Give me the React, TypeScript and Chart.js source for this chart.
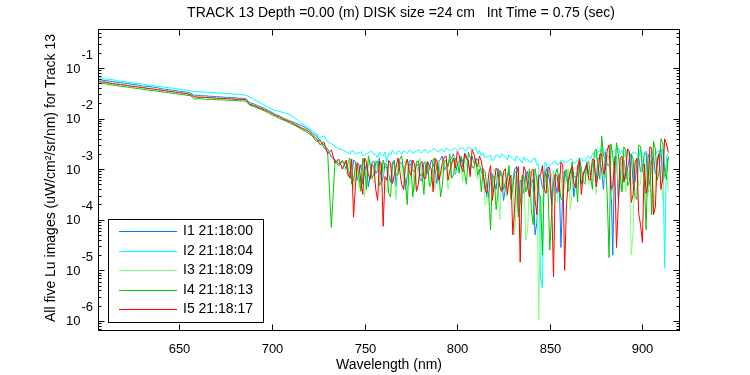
import React, { useEffect, useRef } from "react";
import { Chart, registerables } from "chart.js";

Chart.register(...registerables);

const TITLE = "TRACK 13 Depth =0.00 (m) DISK size =24 cm   Int Time = 0.75 (sec)";
const X_TITLE = "Wavelength (nm)";
const Y_TITLE = "All five Lu images (uW/cm\u00B2/sr/nm) for Track 13";

const xTicks = [650, 700, 750, 800, 850, 900];
const yDecades = [-6, -5, -4, -3, -2, -1];
const X_MIN = 606;
const X_MAX = 920.3;
const Y_MIN_EXP = -6.2;
const Y_MAX_EXP = -0.23;

const labels = ["I1 21:18:00", "I2 21:18:04", "I3 21:18:09", "I4 21:18:13", "I5 21:18:17"];
const colors = ["rgb(0,127,255)", "rgb(0,255,255)", "rgb(128,255,128)", "rgb(0,200,0)", "rgb(255,0,0)"];

// even-nm samples, 606..914
const wavelengths = [
  606,608,610,612,614,616,618,620,622,624,
  626,628,630,632,634,636,638,640,642,644,
  646,648,650,652,654,656,658,660,662,664,
  666,668,670,672,674,676,678,680,682,684,
  686,688,690,692,694,696,698,700,702,704,
  706,708,710,712,714,716,718,720,722,724,
  726,728,730,732,734,736,738,740,742,744,
  746,748,750,752,754,756,758,760,762,764,
  766,768,770,772,774,776,778,780,782,784,
  786,788,790,792,794,796,798,800,802,804,
  806,808,810,812,814,816,818,820,822,824,
  826,828,830,832,834,836,838,840,842,844,
  846,848,850,852,854,856,858,860,862,864,
  866,868,870,872,874,876,878,880,882,884,
  886,888,890,892,894,896,898,900,902,904,
  906,908,910,912,914,
];

// odd-nm samples in the noisy part, 741..913
const oddWavelengths = [
  741,743,745,747,749,751,753,755,757,759,
  761,763,765,767,769,771,773,775,777,779,
  781,783,785,787,789,791,793,795,797,799,
  801,803,805,807,809,811,813,
  815,817,819,821,823,825,827,829,831,833,
  835,837,839,841,843,845,847,849,851,853,
  855,857,859,861,863,865,867,869,
  871,873,875,877,879,881,883,885,887,889,
  891,893,895,897,899,901,903,905,907,909,911,913,
];

// log10 of radiance for each image (even-nm samples)
const i1Log = [
  -1.23,-1.24,-1.25,-1.26,-1.27,-1.28,-1.29,-1.30,-1.31,-1.32,
  -1.33,-1.34,-1.36,-1.36,-1.37,-1.38,-1.39,-1.41,-1.42,-1.43,
  -1.44,-1.45,-1.46,-1.47,-1.48,-1.50,-1.54,-1.54,-1.55,-1.55,
  -1.56,-1.56,-1.57,-1.57,-1.58,-1.58,-1.59,-1.59,-1.60,-1.60,
  -1.61,-1.69,-1.71,-1.74,-1.77,-1.80,-1.84,-1.88,-1.92,-1.95,
  -1.99,-2.02,-2.05,-2.08,-2.11,-2.14,-2.18,-2.22,-2.30,-2.34,
  -2.45,-2.52,-2.60,-2.76,-2.82,-2.90,-2.86,-2.89,-3.11,-2.82,
  -3.22,-2.91,-3.04,-3.35,-2.87,-3.09,-2.78,-3.18,-2.91,-3.26,
  -2.82,-3.00,-2.89,-3.40,-2.85,-3.04,-2.91,-3.22,-2.87,-3.09,
  -2.82,-3.00,-2.87,-2.74,-2.96,-2.82,-2.70,-2.91,-2.78,-2.68,
  -2.89,-2.74,-2.82,-2.91,-3.13,-3.55,-3.08,-3.26,-2.99,-3.17,
  -3.39,-3.04,-3.26,-2.95,-3.22,-3.48,-3.04,-3.30,-4.30,-3.13,
  -3.37,-2.99,-3.26,-3.08,-3.48,-4.55,-3.04,-3.30,-2.95,-3.22,
  -2.82,-3.08,-2.87,-3.11,-2.91,-2.78,-3.04,-2.67,-2.91,-4.70,
  -2.74,-3.18,-2.82,-3.00,-2.70,-3.26,-2.78,-3.04,-2.65,-3.22,
  -2.74,-2.91,-2.60,-3.11,-2.78,
];
const i1LogOdd = [
  -2.98,-3.20,-2.86,-3.05,-3.30,-2.90,-3.12,-2.84,-3.02,-3.25,
  -2.88,-3.10,-2.94,-3.35,-2.86,-2.98,-3.15,-2.82,-3.05,-2.92,
  -3.22,-2.86,-3.00,-2.90,-3.28,-2.80,-3.02,-2.92,-2.78,-3.10,
  -2.84,-2.96,-2.74,-3.08,-2.88,-2.80,-3.05,
  -3.30,-3.55,-3.10,-3.40,-3.05,-3.62,-3.20,-3.45,-3.00,-3.85,
  -3.25,-3.10,-3.50,-3.20,-4.05,-3.15,-3.40,-3.08,-3.70,-3.30,
  -3.10,-3.45,-3.20,-3.05,-3.55,-3.10,-3.30,-3.00,
  -3.10,-2.88,-3.25,-2.80,-3.40,-2.92,-3.15,-2.75,-3.60,-2.86,
  -3.20,-2.78,-3.30,-2.90,-3.05,-2.70,-3.45,-2.85,-3.10,-2.68,-3.25,-2.90,
];

const i2Log = [
  -1.20,-1.20,-1.22,-1.23,-1.23,-1.25,-1.26,-1.27,-1.28,-1.29,
  -1.30,-1.31,-1.32,-1.33,-1.34,-1.35,-1.36,-1.37,-1.38,-1.39,
  -1.40,-1.41,-1.42,-1.43,-1.44,-1.45,-1.47,-1.47,-1.47,-1.48,
  -1.48,-1.49,-1.49,-1.50,-1.50,-1.51,-1.51,-1.52,-1.52,-1.53,
  -1.54,-1.58,-1.62,-1.66,-1.70,-1.74,-1.78,-1.82,-1.84,-1.86,
  -1.88,-1.90,-1.93,-1.98,-2.04,-2.10,-2.14,-2.18,-2.26,-2.30,
  -2.38,-2.34,-2.46,-2.50,-2.55,-2.60,-2.62,-2.66,-2.70,-2.64,
  -2.69,-2.66,-2.72,-2.68,-2.65,-2.71,-2.67,-2.74,-2.86,-2.72,
  -2.68,-2.64,-2.70,-2.66,-2.63,-2.69,-2.65,-2.67,-2.62,-2.68,
  -2.64,-2.60,-2.66,-2.62,-2.59,-2.64,-2.60,-2.63,-2.58,-2.62,
  -2.56,-2.61,-2.57,-2.63,-2.68,-2.76,-2.72,-2.80,-2.74,-2.70,
  -2.76,-2.72,-2.79,-2.74,-2.82,-2.76,-2.80,-2.86,-2.78,-2.90,
  -5.35,-2.87,-2.93,-2.85,-2.91,-2.83,-2.89,-2.85,-2.81,-2.87,
  -2.79,-2.84,-2.77,-2.80,-2.68,-2.64,-2.58,-2.62,-2.56,-2.66,
  -2.60,-2.70,-2.76,-2.64,-2.72,-2.68,-2.78,-2.74,-2.66,-2.80,
  -2.72,-2.64,-2.70,-4.95,-2.68,
];
const i2LogOdd = [
  -2.68,-2.64,-2.70,-2.67,-2.73,-2.69,-2.66,-2.71,-2.78,-2.70,
  -2.66,-2.68,-2.63,-2.71,-2.66,-2.64,-2.69,-2.63,-2.66,-2.61,
  -2.67,-2.62,-2.65,-2.60,-2.64,-2.61,-2.66,-2.60,-2.63,-2.59,
  -2.62,-2.58,-2.64,-2.59,-2.62,-2.70,-2.74,
  -2.78,-2.75,-2.84,-2.72,-2.78,-2.74,-2.82,-2.76,-2.84,-2.78,
  -2.88,-2.83,-2.86,-2.80,-2.92,-5.15,-2.88,-3.10,-2.90,-2.84,
  -2.90,-2.82,-2.86,-2.80,-2.88,-2.82,-2.78,-2.84,
  -2.74,-2.70,-2.78,-2.66,-2.72,-2.62,-2.60,-2.64,-2.58,-2.63,
  -2.68,-2.74,-2.66,-2.70,-2.62,-2.76,-2.70,-2.64,-2.72,-2.66,-2.60,-2.74,
];

const i3Log = [
  -1.26,-1.27,-1.28,-1.29,-1.30,-1.31,-1.32,-1.33,-1.34,-1.35,
  -1.36,-1.37,-1.38,-1.39,-1.40,-1.41,-1.42,-1.43,-1.44,-1.45,
  -1.46,-1.47,-1.48,-1.49,-1.50,-1.52,-1.56,-1.57,-1.57,-1.58,
  -1.58,-1.59,-1.59,-1.60,-1.60,-1.60,-1.61,-1.61,-1.62,-1.62,
  -1.62,-1.71,-1.73,-1.76,-1.79,-1.82,-1.85,-1.89,-1.93,-1.96,
  -2.00,-2.03,-2.06,-2.10,-2.14,-2.18,-2.21,-2.25,-2.32,-2.38,
  -2.48,-2.55,-2.64,-2.72,-2.80,-2.86,-2.95,-3.04,-2.87,-3.40,
  -2.96,-3.13,-3.55,-2.91,-3.22,-2.82,-3.09,-2.96,-3.44,-2.87,
  -3.18,-2.91,-3.04,-2.82,-3.33,-2.96,-3.13,-2.78,-3.26,-2.91,
  -3.09,-3.40,-2.82,-3.00,-2.91,-3.22,-2.74,-3.04,-2.87,-2.78,
  -3.00,-2.82,-3.11,-2.87,-3.04,-3.65,-3.22,-2.99,-3.35,-3.08,
  -3.48,-3.13,-3.26,-3.59,-4.60,-3.08,-4.20,-3.22,-3.44,-5.98,
  -3.70,-3.15,-3.39,-3.04,-3.66,-3.17,-3.35,-2.99,-3.48,-3.08,
  -2.91,-3.22,-2.96,-3.22,-2.82,-3.04,-2.56,-3.18,-2.78,-3.33,
  -2.65,-3.44,-2.89,-3.22,-4.70,-2.82,-3.33,-2.70,-3.11,-2.82,
  -3.90,-2.74,-3.26,-2.91,-3.44,
];
const i3LogOdd = [
  -3.15,-2.90,-3.05,-3.38,-2.95,-3.10,-2.84,-3.28,-3.00,-2.90,
  -3.35,-2.95,-3.10,-3.60,-2.88,-3.20,-2.95,-3.05,-3.42,-2.92,
  -3.15,-2.84,-3.30,-3.00,-2.90,-3.18,-2.82,-3.40,-2.96,-3.08,
  -2.86,-3.25,-2.92,-3.05,-2.84,-3.20,-3.00,
  -3.70,-3.20,-3.45,-3.10,-4.00,-3.25,-3.55,-3.15,-4.30,-3.20,
  -3.60,-4.40,-3.25,-3.50,-3.15,-3.75,-3.30,-3.45,-3.10,-3.62,
  -3.20,-3.50,-3.15,-3.80,-3.05,-3.35,-3.20,-3.10,
  -3.30,-2.90,-3.50,-2.85,-3.20,-2.72,-3.60,-2.95,-3.35,-2.80,
  -3.45,-3.00,-4.20,-2.90,-3.30,-2.75,-3.55,-2.95,-3.25,-2.70,-3.60,-3.00,
];

const i4Log = [
  -1.30,-1.31,-1.31,-1.33,-1.34,-1.35,-1.36,-1.37,-1.38,-1.39,
  -1.40,-1.41,-1.42,-1.43,-1.44,-1.45,-1.46,-1.47,-1.48,-1.49,
  -1.50,-1.51,-1.52,-1.53,-1.54,-1.55,-1.61,-1.61,-1.61,-1.62,
  -1.62,-1.62,-1.63,-1.63,-1.63,-1.64,-1.64,-1.64,-1.65,-1.65,
  -1.66,-1.74,-1.76,-1.79,-1.82,-1.85,-1.89,-1.93,-1.96,-2.00,
  -2.03,-2.06,-2.10,-2.13,-2.17,-2.22,-2.25,-2.30,-2.36,-2.46,
  -2.42,-2.58,-2.66,-4.15,-2.84,-2.94,-2.82,-3.00,-2.78,-3.22,
  -2.91,-3.44,-2.96,-2.74,-3.18,-2.87,-3.33,-2.82,-2.96,-3.55,
  -2.87,-3.11,-2.74,-3.22,-2.91,-3.55,-2.85,-3.13,-3.50,-2.89,
  -3.26,-2.78,-2.96,-3.31,-2.82,-2.70,-3.11,-2.85,-2.74,-3.09,
  -2.67,-2.96,-2.78,-3.00,-2.99,-3.37,-4.20,-3.15,-3.48,-3.08,
  -3.26,-2.93,-3.39,-3.04,-3.70,-3.15,-3.30,-3.81,-2.99,-3.48,
  -4.70,-3.08,-4.60,-3.26,-2.99,-3.59,-3.08,-3.44,-2.86,-3.15,
  -2.78,-3.26,-2.87,-3.13,-2.67,-2.96,-2.35,-2.78,-4.75,-2.74,
  -2.48,-3.11,-2.56,-3.33,-2.70,-3.55,-2.52,-3.00,-4.20,-2.78,
  -2.45,-3.22,-2.40,-3.04,-2.74,
];
const i4LogOdd = [
  -2.88,-3.30,-2.95,-3.15,-2.78,-3.40,-2.92,-3.08,-2.84,-3.25,
  -2.96,-3.48,-2.86,-3.12,-2.80,-3.05,-3.70,-2.90,-3.20,-2.84,
  -3.10,-2.88,-3.35,-2.80,-3.02,-3.55,-2.86,-2.96,-3.18,-2.78,
  -3.08,-2.85,-3.30,-2.76,-2.98,-3.12,-3.45,
  -3.05,-3.50,-3.15,-3.80,-3.02,-3.40,-3.18,-3.60,-3.08,-3.95,
  -3.12,-3.45,-3.00,-4.10,-3.20,-3.55,-3.05,-3.38,-3.85,-3.10,
  -3.25,-3.60,-3.00,-3.40,-3.15,-3.65,-2.98,-3.30,
  -2.85,-3.40,-2.60,-3.20,-2.75,-3.55,-2.50,-3.10,-2.70,-3.45,
  -2.62,-3.25,-2.80,-3.60,-2.55,-3.15,-2.72,-3.90,-2.60,-3.05,-2.48,-3.20,
];

const i5Log = [
  -1.27,-1.28,-1.28,-1.30,-1.31,-1.32,-1.33,-1.34,-1.35,-1.36,
  -1.37,-1.38,-1.39,-1.40,-1.41,-1.42,-1.43,-1.44,-1.45,-1.46,
  -1.47,-1.48,-1.49,-1.50,-1.51,-1.53,-1.57,-1.58,-1.58,-1.58,
  -1.59,-1.59,-1.60,-1.60,-1.60,-1.61,-1.61,-1.62,-1.62,-1.62,
  -1.63,-1.72,-1.74,-1.77,-1.80,-1.83,-1.86,-1.90,-1.94,-1.97,
  -2.01,-2.04,-2.07,-2.11,-2.15,-2.19,-2.22,-2.26,-2.34,-2.40,
  -2.52,-2.46,-2.70,-2.62,-2.88,-2.80,-3.00,-2.82,-3.18,-3.95,
  -2.87,-3.26,-2.78,-3.11,-2.91,-3.40,-2.85,-4.13,-3.22,-2.89,
  -3.13,-2.78,-3.31,-2.93,-3.04,-2.82,-3.44,-2.89,-3.18,-2.85,
  -3.00,-2.80,-3.22,-2.87,-2.74,-3.04,-2.78,-2.65,-2.93,-2.70,
  -2.82,-2.62,-2.89,-2.74,-3.08,-3.48,-2.93,-3.30,-3.04,-3.44,
  -2.99,-3.22,-4.30,-3.08,-4.84,-2.95,-3.35,-3.04,-3.59,-3.13,
  -2.93,-3.48,-2.99,-5.13,-3.15,-2.86,-5.00,-3.22,-2.95,-3.37,
  -2.82,-3.13,-2.91,-3.22,-2.82,-3.11,-2.70,-3.00,-2.52,-3.33,
  -4.55,-2.78,-3.26,-2.60,-3.66,-2.89,-3.88,-4.45,-3.48,-2.56,
  -3.90,-2.82,-3.40,-2.40,-2.67,
];
const i5LogOdd = [
  -3.10,-2.80,-3.35,-2.92,-3.50,-2.86,-3.20,-2.95,-3.62,-2.88,
  -3.15,-2.83,-3.28,-2.96,-3.05,-3.40,-2.80,-3.12,-2.90,-3.30,
  -2.85,-3.18,-2.94,-3.45,-2.82,-3.08,-2.76,-3.22,-2.88,-2.98,
  -2.72,-3.05,-2.80,-3.15,-2.70,-2.95,-2.84,
  -3.40,-3.10,-3.62,-2.98,-3.35,-3.05,-3.50,-3.12,-3.78,-2.95,
  -3.30,-3.05,-3.55,-3.00,-3.90,-3.12,-3.40,-2.96,-3.65,-3.10,
  -3.45,-2.92,-3.70,-3.05,-3.28,-2.94,-3.50,-3.02,
  -3.20,-2.80,-3.35,-2.70,-3.10,-2.62,-3.40,-2.85,-3.70,-2.74,
  -3.05,-2.66,-3.50,-2.78,-4.10,-2.90,-3.30,-2.58,-3.75,-2.70,-3.20,-2.50,
];

const seriesLogs = [i1Log, i2Log, i3Log, i4Log, i5Log];
const seriesLogsOdd = [i1LogOdd, i2LogOdd, i3LogOdd, i4LogOdd, i5LogOdd];

const FONT = '"Liberation Sans", Arial, Helvetica, sans-serif';

const decorPlugin = {
  id: "matlabDecor",
  afterDraw(chart: any) {
    const { ctx, chartArea: a, scales } = chart;
    const xs = scales.x;
    const ys = scales.y;
    const L = Math.round(a.left) + 0.5;
    const R = Math.round(a.right) - 0.5;
    const T = Math.round(a.top) + 0.5;
    const B = Math.round(a.bottom) - 0.5;
    ctx.save();
    ctx.strokeStyle = "#000";
    ctx.fillStyle = "#000";
    ctx.lineWidth = 1;
    const line = (x1: number, y1: number, x2: number, y2: number) => {
      ctx.beginPath();
      ctx.moveTo(x1, y1);
      ctx.lineTo(x2, y2);
      ctx.stroke();
    };
    ctx.strokeRect(L, T, R - L, B - T);

    // x ticks
    ctx.font = "13px " + FONT;
    ctx.textAlign = "center";
    ctx.textBaseline = "middle";
    for (const v of xTicks) {
      const px = Math.round(xs.getPixelForValue(v)) + 0.5;
      line(px, B, px, B - 6);
      line(px, T, px, T + 6);
      ctx.fillText(String(v), px, B + 19);
    }

    // y ticks (major + minor)
    const yMin = Math.pow(10, Y_MIN_EXP);
    const yMax = Math.pow(10, Y_MAX_EXP);
    for (let d = -7; d <= 0; d++) {
      for (let m = 1; m <= 9; m++) {
        const v = m * Math.pow(10, d);
        if (v < yMin || v > yMax) continue;
        const py = Math.round(ys.getPixelForValue(v)) + 0.5;
        const len = m === 1 ? 6 : 3;
        line(L, py, L + len, py);
        line(R, py, R - len, py);
      }
    }
    for (const d of yDecades) {
      const py = ys.getPixelForValue(Math.pow(10, d));
      ctx.textAlign = "right";
      ctx.fillText("10", L - 18, py + 1);
      ctx.textAlign = "left";
      ctx.fillText(String(d), L - 17, py - 13);
    }

    // titles
    ctx.font = "14px " + FONT;
    ctx.textAlign = "center";
    ctx.fillText(TITLE, 401, 13);
    ctx.fillText(X_TITLE, (L + R) / 2, 365);
    ctx.save();
    ctx.translate(51, (T + B) / 2 - 2);
    ctx.rotate(-Math.PI / 2);
    ctx.fillText(Y_TITLE, 0, 0);
    ctx.restore();

    // legend
    const lx = 108.5, ly = 219.5, lw = 155, lh = 103;
    ctx.fillStyle = "#fff";
    ctx.fillRect(lx, ly, lw, lh);
    ctx.strokeStyle = "#000";
    ctx.strokeRect(lx, ly, lw, lh);
    ctx.font = "14px " + FONT;
    ctx.textAlign = "left";
    chart.data.datasets.forEach((ds: any, i: number) => {
      const yy = Math.round(231 + i * 19.6) + 0.5;
      ctx.strokeStyle = ds.borderColor;
      line(119, yy, 177, yy);
      ctx.fillStyle = "#000";
      ctx.fillText(ds.label, 183, yy);
    });
    ctx.restore();
  },
};

export default function App() {
  const ref = useRef<HTMLCanvasElement | null>(null);
  useEffect(() => {
    if (!ref.current) return;
    const datasets = seriesLogs.map((arr, s) => {
      const odd = seriesLogsOdd[s];
      const pts = [
        ...wavelengths.map((w, i) => ({ x: w, y: Math.pow(10, arr[i]) })),
        ...oddWavelengths.map((w, j) => ({ x: w, y: Math.pow(10, odd[j]) })),
      ].sort((p, q) => p.x - q.x);
      return {
        label: labels[s],
        data: pts,
        borderColor: colors[s],
        backgroundColor: colors[s],
        borderWidth: 1,
        pointRadius: 0,
        tension: 0,
        fill: false,
        order: 4 - s,
      };
    });
    const chart = new Chart(ref.current, {
      type: "line",
      data: { datasets },
      options: {
        animation: false,
        responsive: false,
        devicePixelRatio: 1,
        layout: { padding: { left: 98, top: 29, right: 70, bottom: 44 } },
        plugins: { legend: { display: false }, tooltip: { enabled: false }, title: { display: false } },
        scales: {
          x: { type: "linear", min: X_MIN, max: X_MAX, display: false },
          y: { type: "logarithmic", min: Math.pow(10, Y_MIN_EXP), max: Math.pow(10, Y_MAX_EXP), display: false },
        },
      },
      plugins: [decorPlugin],
    });
    return () => chart.destroy();
  }, []);
  return (
    <div style={{ position: "fixed", left: 0, top: 0, width: 750, height: 375, background: "#fff" }}>
      <canvas ref={ref} width={750} height={375} />
    </div>
  );
}
